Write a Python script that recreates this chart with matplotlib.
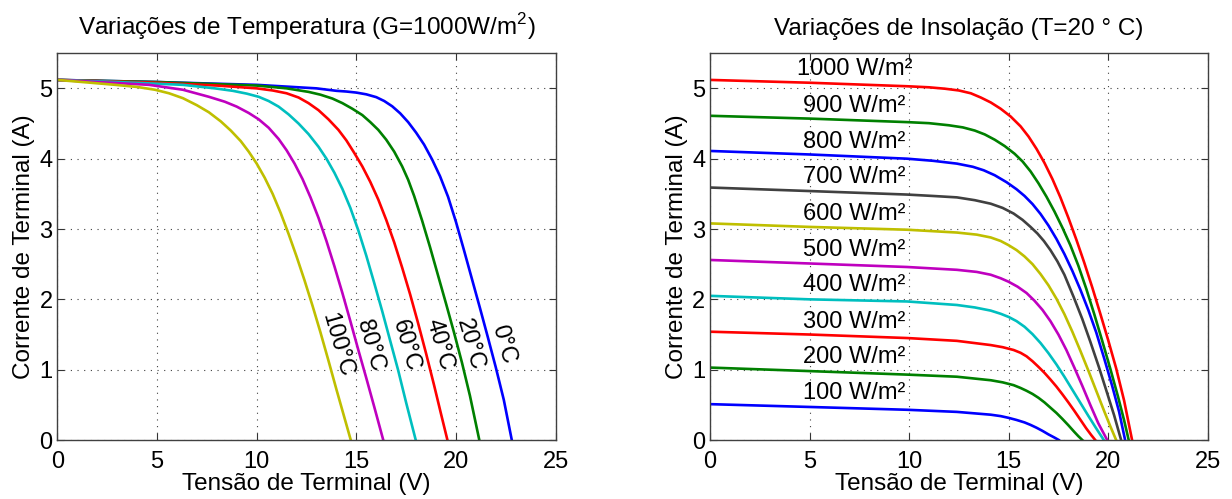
import numpy as np
import matplotlib.pyplot as plt

plt.rcParams['font.family'] = ['Liberation Sans', 'DejaVu Sans']
plt.rcParams['mathtext.fontset'] = 'custom'
plt.rcParams['mathtext.rm'] = 'Liberation Sans'

# --- curvas I-V para diferentes temperaturas (G = 1000 W/m2) ---
temp_labels = ['0°C', '20°C', '40°C', '60°C', '80°C', '100°C']
temp_colors = ['b', 'g', 'r', 'c', 'm', 'y']

v_0c = [0, 5, 10, 13, 14.0, 14.5, 15.0, 15.5, 16.0, 16.4, 16.8, 17.2, 17.6, 18.0, 18.4, 18.8,
        19.2, 19.6, 20.0, 20.4, 20.8, 21.2, 21.6, 22.0, 22.4, 22.8]
i_0c = [5.12, 5.09, 5.05, 5.0, 4.965, 4.955, 4.94, 4.915, 4.875, 4.82, 4.745, 4.645, 4.52, 4.37, 4.20, 3.99,
        3.75, 3.46, 3.10, 2.70, 2.29, 1.88, 1.46, 1.03, 0.57, 0.0]
v_20c = [0, 5, 10, 11.5, 12.6, 13.2, 13.8, 14.3, 14.8, 15.3, 15.7, 16.1, 16.5, 16.9, 17.3, 17.6,
         17.9, 18.3, 18.7, 19.1, 19.5, 19.9, 20.3, 20.7, 21.17]
i_20c = [5.12, 5.09, 5.04, 5.0, 4.95, 4.91, 4.855, 4.79, 4.71, 4.62, 4.52, 4.41, 4.27, 4.10, 3.89, 3.70,
         3.47, 3.12, 2.74, 2.34, 1.94, 1.53, 1.10, 0.63, 0.0]
v_40c = [0, 5, 8, 10, 10.8, 11.5, 12.1, 12.6, 13.1, 13.6, 14.1, 14.5, 14.9, 15.3, 15.7, 16.1,
         16.5, 16.9, 17.3, 17.7, 18.1, 18.5, 18.9, 19.25, 19.57]
i_40c = [5.12, 5.08, 5.04, 5.0, 4.97, 4.93, 4.87, 4.79, 4.69, 4.56, 4.41, 4.26, 4.08, 3.89, 3.67, 3.42,
         3.13, 2.81, 2.45, 2.07, 1.66, 1.23, 0.78, 0.37, 0.0]
v_60c = [0, 3, 6.3, 7.9, 8.8, 9.5, 10.1, 10.6, 11.1, 11.6, 12.1, 12.6, 13.1, 13.5, 13.9, 14.3,
         14.7, 15.1, 15.5, 15.9, 16.3, 16.7, 17.1, 17.5, 17.98]
i_60c = [5.12, 5.09, 5.05, 5.0, 4.965, 4.925, 4.88, 4.82, 4.74, 4.63, 4.50, 4.35, 4.17, 4.00, 3.80, 3.57,
         3.30, 2.98, 2.62, 2.23, 1.83, 1.41, 0.99, 0.53, 0.0]
v_80c = [0, 2, 4.6, 6.3, 7.6, 8.4, 9.0, 9.6, 10.1, 10.6, 11.1, 11.5, 11.9, 12.3, 12.7, 13.1,
         13.5, 13.9, 14.3, 14.7, 15.1, 15.5, 15.9, 16.35]
i_80c = [5.12, 5.09, 5.05, 4.98, 4.88, 4.81, 4.74, 4.65, 4.56, 4.44, 4.28, 4.12, 3.93, 3.71, 3.45, 3.16,
         2.83, 2.47, 2.09, 1.69, 1.28, 0.88, 0.47, 0.0]
v_100c = [0, 1.25, 2.9, 4.0, 4.9, 5.6, 6.3, 7.0, 7.6, 8.2, 8.7, 9.2, 9.6, 10.0, 10.4, 10.8,
          11.2, 11.6, 12.0, 12.4, 12.8, 13.2, 13.6, 14.0, 14.4, 14.72]
i_100c = [5.12, 5.09, 5.05, 5.02, 4.98, 4.93, 4.86, 4.76, 4.66, 4.53, 4.40, 4.25, 4.10, 3.93, 3.73, 3.50,
          3.23, 2.93, 2.61, 2.27, 1.91, 1.53, 1.13, 0.72, 0.32, 0.0]

temp_v = [v_0c, v_20c, v_40c, v_60c, v_80c, v_100c]
temp_i = [i_0c, i_20c, i_40c, i_60c, i_80c, i_100c]
temp_label_v = [22.4, 20.7, 19.15, 17.5, 15.7, 14.05]
temp_label_i = [1.36, 1.36, 1.35, 1.34, 1.34, 1.35]

# --- curvas I-V para diferentes insolacoes (T = 20 C) ---
g_labels = ['1000 W/m²', '900 W/m²', '800 W/m²', '700 W/m²', '600 W/m²',
            '500 W/m²', '400 W/m²', '300 W/m²', '200 W/m²', '100 W/m²']
g_colors = ['r', 'g', 'b', (0.25, 0.25, 0.25), 'y', 'm', 'c', 'r', 'g', 'b']

v_1000 = [0, 5, 9.9, 11.0, 11.8, 12.5, 13.1, 13.6, 14.1, 14.6, 15.1, 15.6, 16.0, 16.4, 16.8, 17.2,
          17.6, 18.0, 18.4, 18.8, 19.2, 19.6, 20.0, 20.4, 20.8, 21.2]
i_1000 = [5.12, 5.08, 5.03, 5.015, 4.995, 4.97, 4.93, 4.87, 4.80, 4.71, 4.60, 4.46, 4.315, 4.14, 3.94, 3.71,
          3.45, 3.16, 2.85, 2.52, 2.17, 1.80, 1.42, 1.02, 0.56, 0.0]
v_900 = [0, 5, 9.9, 11.0, 12.0, 12.7, 13.3, 13.8, 14.3, 14.8, 15.3, 15.7, 16.1, 16.5, 16.9, 17.3,
         17.7, 18.1, 18.5, 18.9, 19.3, 19.7, 20.1, 20.5, 20.8, 21.03]
i_900 = [4.61, 4.57, 4.52, 4.505, 4.475, 4.445, 4.40, 4.345, 4.27, 4.18, 4.07, 3.96, 3.82, 3.65, 3.46, 3.25,
         3.02, 2.77, 2.48, 2.15, 1.79, 1.41, 1.02, 0.61, 0.28, 0.0]
v_800 = [0, 5, 9.9, 11.2, 12.4, 13.2, 13.75, 14.3, 14.9, 15.4, 15.8, 16.2, 16.6, 17.0, 17.4, 17.8,
         18.2, 18.6, 19.0, 19.4, 19.8, 20.2, 20.55, 20.85]
i_800 = [4.11, 4.06, 4.0, 3.97, 3.93, 3.885, 3.835, 3.765, 3.665, 3.565, 3.47, 3.355, 3.215, 3.05, 2.86, 2.645,
         2.405, 2.14, 1.85, 1.53, 1.16, 0.77, 0.40, 0.0]
v_700 = [0, 5, 9.9, 11.2, 12.4, 13.3, 14.1, 14.7, 15.25, 15.7, 16.1, 16.45, 16.77, 17.1, 17.45, 17.8,
         18.27, 18.7, 19.1, 19.53, 19.9, 20.3, 20.65]
i_700 = [3.59, 3.54, 3.49, 3.47, 3.45, 3.41, 3.36, 3.30, 3.22, 3.13, 3.03, 2.935, 2.83, 2.70, 2.54, 2.35,
         2.03, 1.72, 1.40, 1.04, 0.71, 0.35, 0.0]
v_600 = [0, 5, 9.9, 12.4, 13.4, 14.1, 14.6, 15.0, 15.4, 15.8, 16.2, 16.6, 17.0, 17.4, 17.8, 18.2,
         18.6, 19.0, 19.4, 19.8, 20.1, 20.4]
i_600 = [3.08, 3.03, 2.99, 2.95, 2.92, 2.88, 2.83, 2.77, 2.70, 2.61, 2.50, 2.36, 2.20, 2.01, 1.79, 1.54,
         1.27, 0.99, 0.70, 0.41, 0.20, 0.0]
v_500 = [0, 5, 9.9, 12.4, 13.4, 14.1, 14.6, 15.0, 15.45, 15.9, 16.3, 16.7, 17.1, 17.5, 17.9, 18.3,
         18.7, 19.1, 19.5, 19.95]
i_500 = [2.56, 2.51, 2.46, 2.42, 2.39, 2.35, 2.30, 2.25, 2.18, 2.09, 1.98, 1.85, 1.69, 1.50, 1.28, 1.03,
         0.77, 0.50, 0.24, 0.0]
v_400 = [0, 5, 9.9, 12.4, 13.3, 14.1, 14.6, 15.0, 15.4, 15.8, 16.2, 16.6, 17.0, 17.4, 17.8, 18.2,
         18.6, 19.0, 19.4, 19.78]
i_400 = [2.05, 2.0, 1.97, 1.92, 1.885, 1.84, 1.795, 1.75, 1.69, 1.61, 1.505, 1.38, 1.235, 1.075, 0.90, 0.715,
         0.53, 0.345, 0.165, 0.0]
v_300 = [0, 5, 9.9, 12.4, 14.1, 14.7, 15.25, 15.6, 15.9, 16.2, 16.5, 16.8, 17.1, 17.4, 17.7, 18.0,
         18.3, 18.6, 18.9, 19.15, 19.35]
i_300 = [1.54, 1.50, 1.45, 1.41, 1.35, 1.32, 1.28, 1.24, 1.19, 1.12, 1.04, 0.955, 0.86, 0.76, 0.65, 0.535,
         0.415, 0.29, 0.165, 0.07, 0.0]
v_200 = [0, 5, 9.9, 12.4, 14.1, 14.7, 15.25, 15.6, 15.9, 16.2, 16.5, 16.8, 17.1, 17.4, 17.7, 18.0,
         18.3, 18.5, 18.7]
i_200 = [1.03, 0.98, 0.93, 0.90, 0.85, 0.82, 0.78, 0.74, 0.70, 0.655, 0.60, 0.535, 0.46, 0.385, 0.30, 0.21,
         0.115, 0.055, 0.0]
v_100 = [0, 5, 9.9, 12.4, 14.1, 14.6, 15.0, 15.4, 15.8, 16.1, 16.4, 16.7, 17.0, 17.3, 17.52]
i_100 = [0.51, 0.47, 0.43, 0.40, 0.36, 0.34, 0.315, 0.285, 0.25, 0.215, 0.175, 0.13, 0.08, 0.035, 0.0]

g_v = [v_1000, v_900, v_800, v_700, v_600, v_500, v_400, v_300, v_200, v_100]
g_i = [i_1000, i_900, i_800, i_700, i_600, i_500, i_400, i_300, i_200, i_100]
g_label_v = 7.25
g_label_i = [5.27, 4.75, 4.24, 3.74, 3.22, 2.70, 2.20, 1.68, 1.18, 0.67]


def style_axes(ax):
    ax.set_xlim(0, 25)
    ax.set_ylim(0, 5.5)
    ax.set_xticks([0, 5, 10, 15, 20, 25])
    ax.set_yticks([0, 1, 2, 3, 4, 5])
    ax.grid(True, color='0.25', linestyle=(0, (1, 5)), linewidth=0.8)
    ax.tick_params(direction='in', length=5, width=0.8, top=True, right=True,
                   labelsize=17, color='0.2')
    ax.tick_params(axis='x', pad=8)
    ax.tick_params(axis='y', pad=3.5)
    for s in ax.spines.values():
        s.set_color('0.25')
        s.set_linewidth(1.0)
    ax.set_xlabel('Tensão de Terminal (V)', fontsize=17.5, labelpad=0)
    ax.set_ylabel('Corrente de Terminal (A)', fontsize=17.5, labelpad=3)


fig = plt.figure(figsize=(12.32, 4.99), dpi=100)
ax1 = fig.add_axes([0.0466, 0.1182, 0.4044, 0.7752])
ax2 = fig.add_axes([0.5763, 0.1182, 0.4040, 0.7752])

for v, i, c in zip(temp_v, temp_i, temp_colors):
    ax1.plot(v, i, color=c, linewidth=1.9)
for lab, x, y in zip(temp_labels, temp_label_v, temp_label_i):
    ax1.text(x, y, lab, rotation=-74, ha='center', va='center',
             rotation_mode='anchor', fontsize=17)
style_axes(ax1)
ax1.set_title('Variações de Temperatura (G=1000W/m$^2$)', fontsize=17.5, pad=13)

for v, i, c in zip(g_v, g_i, g_colors):
    ax2.plot(v, i, color=c, linewidth=1.9)
for lab, y in zip(g_labels, g_label_i):
    ax2.text(g_label_v, y, lab, ha='center', va='center', fontsize=17)
style_axes(ax2)
ax2.set_title('Variações de Insolação (T=20 ° C)', fontsize=17.5, pad=13)

fig.savefig('out.png', dpi=100)
